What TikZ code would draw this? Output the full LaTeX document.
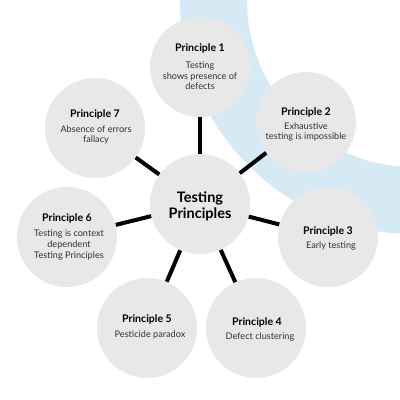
\documentclass[tikz,border=0pt]{standalone}
\usepackage{fontspec}
\setmainfont{Lato}
\definecolor{ringblue}{RGB}{214,234,246}
\definecolor{circgray}{RGB}{232,232,232}
\definecolor{bodygray}{RGB}{50,50,50}
\tikzset{
  pcircle/.style={circle,fill=circgray,minimum size=2.5cm,inner sep=0pt},
  ptitle/.style={font=\fontsize{7.5}{9}\selectfont\bfseries,text=black,inner sep=0pt},
  pbody/.style={font=\fontsize{6.5}{7.5}\selectfont,text=bodygray,align=center,inner sep=0pt},
  ctitle/.style={font=\fontsize{10.3}{11.5}\selectfont\bfseries,text=black,align=center,inner sep=0pt},
  link/.style={line width=0.1cm,black}
}
\begin{document}
\begin{tikzpicture}[x=0.025cm,y=-0.025cm]
\useasboundingbox (0,0) rectangle (400,400);
\fill[white] (0,0) rectangle (400,400);
\begin{scope}
\clip (0,0) rectangle (400,400);
\fill[ringblue,even odd rule] (414,0) circle[radius=5.85cm] (414,0) circle[radius=4.175cm];
\end{scope}
% circles
\node[pcircle] (c) at (200,204) {};
\node[pcircle] (p1) at (200,67) {};
\node[pcircle] (p2) at (306,122) {};
\node[pcircle] (p3) at (328,237) {};
\node[pcircle] (p4) at (256,328) {};
\node[pcircle] (p5) at (147,328) {};
\node[pcircle] (p6) at (67,237) {};
\node[pcircle] (p7) at (95,128) {};
% connectors
\foreach \p in {p1,p2,p3,p4,p5,p6,p7} \draw[link] (c) -- (\p);
% texts
\node[ctitle] (ct) at (200,206) {Testing\\Principles};
\node[ptitle] (t1) at (200,48) {Principle 1};
\node[pbody] (b1) at (200,76) {Testing\\shows presence of\\defects};
\node[ptitle] (t2) at (306,112) {Principle 2};
\node[pbody] (b2) at (306,132) {Exhaustive\\testing is impossible};
\node[ptitle] (t3) at (328,231) {Principle 3};
\node[pbody] (b3) at (331,246) {Early testing};
\node[ptitle] (t4) at (257,322) {Principle 4};
\node[pbody] (b4) at (260,337) {Defect clustering};
\node[ptitle] (t5) at (147,319) {Principle 5};
\node[pbody] (b5) at (150,335) {Pesticide paradox};
\node[ptitle] (t6) at (67,218) {Principle 6};
\node[pbody] (b6) at (69,245) {Testing is context\\dependent\\Testing Principles};
\node[ptitle] (t7) at (95,114) {Principle 7};
\node[pbody] (b7) at (96,135) {Absence of errors\\fallacy};
\end{tikzpicture}
\end{document}
